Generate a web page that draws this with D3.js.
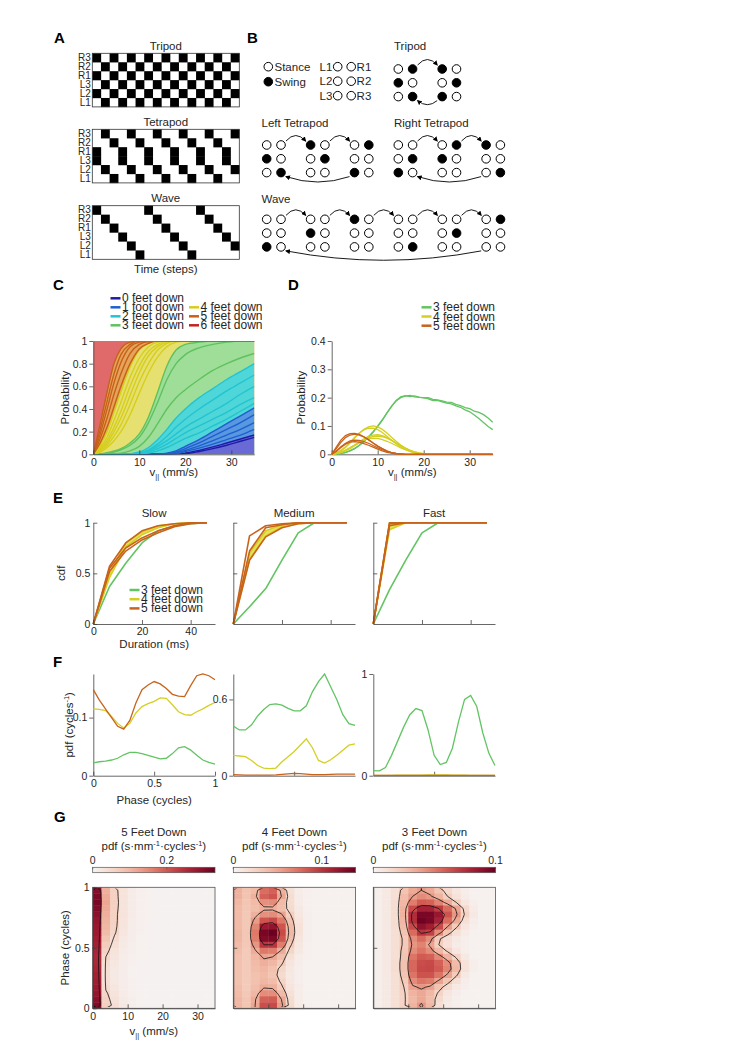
<!DOCTYPE html>
<html>
<head>
<meta charset="utf-8">
<script src="https://cdn.jsdelivr.net/npm/d3@7"></script>
<style>
body { margin: 0; background: #fff; }
svg text { font-family: Arial, "Liberation Sans", Helvetica, sans-serif; fill: #262626; }
</style>
</head>
<body>
<script>
// ---------------- data ----------------
// A: swing (1) / stance (0) per time step, rows in legsA order
var legsA = ["R3", "R2", "R1", "L3", "L2", "L1"];
var tripodA = ["10101010101010101", "01010101010101010", "10101010101010101", "01010101010101010", "10101010101010101", "01010101010101010"];
var tetrapodA = ["01001001001001001", "00100100100100100", "10010010010010010", "10010010010010010", "01001001001001001", "00100100100100100"];
var waveA = ["10000010000010000", "01000001000001000", "00100000100000100", "00010000010000010", "00001000001000001", "00000100000100000"];
var gaitTitlesA = ["Tripod", "Tetrapod", "Wave"];

// B: each step is [row1, row2, row3], each row "LR" with 1 = swing
var tripodB = [["01", "10", "01"], ["10", "01", "10"]];
var leftTetraB = [["00", "10", "01"], ["10", "01", "00"], ["01", "00", "10"]];
var rightTetraB = [["00", "01", "10"], ["01", "10", "00"], ["10", "00", "01"]];
var waveB = [["00", "00", "10"], ["00", "10", "00"], ["10", "00", "00"], ["00", "00", "01"], ["00", "01", "00"], ["01", "00", "00"]];

// C: cumulative probability P(<= k feet down) vs speed, several curves per k
var vC = [0, 1.5, 3, 4.5, 6, 8, 10, 12, 14, 16, 18, 20, 23, 26, 29, 32, 35];
var cum0C = [
  [0, 0, 0, 0, 0, 0, 0, 0, 0, 0, 0, 0.01, 0.035, 0.065, 0.1, 0.135, 0.17],
  [0, 0, 0, 0, 0, 0, 0, 0, 0, 0, 0, 0.005, 0.025, 0.05, 0.08, 0.115, 0.15]
];
var cum1C = [
  [0, 0, 0, 0, 0, 0, 0, 0, 0, 0.01, 0.03, 0.07, 0.13, 0.2, 0.27, 0.34, 0.41],
  [0, 0, 0, 0, 0, 0, 0, 0, 0, 0.005, 0.02, 0.05, 0.1, 0.16, 0.22, 0.28, 0.35],
  [0, 0, 0, 0, 0, 0, 0, 0, 0, 0, 0.01, 0.035, 0.075, 0.12, 0.17, 0.22, 0.28],
  [0, 0, 0, 0, 0, 0, 0, 0, 0, 0, 0.005, 0.025, 0.055, 0.09, 0.13, 0.17, 0.22]
];
var cum2C = [
  [0, 0, 0, 0, 0, 0.005, 0.02, 0.06, 0.13, 0.22, 0.32, 0.4, 0.5, 0.58, 0.66, 0.73, 0.8],
  [0, 0, 0, 0, 0, 0, 0.01, 0.04, 0.09, 0.16, 0.24, 0.31, 0.4, 0.48, 0.56, 0.63, 0.7],
  [0, 0, 0, 0, 0, 0, 0.01, 0.03, 0.07, 0.12, 0.18, 0.24, 0.31, 0.38, 0.45, 0.53, 0.6],
  [0, 0, 0, 0, 0, 0, 0, 0.02, 0.05, 0.09, 0.14, 0.19, 0.25, 0.31, 0.37, 0.44, 0.5],
  [0, 0, 0, 0, 0, 0, 0, 0.01, 0.03, 0.06, 0.1, 0.14, 0.19, 0.25, 0.31, 0.38, 0.45]
];
var cum3C = [
  [0, 0.005, 0.015, 0.03, 0.05, 0.1, 0.18, 0.33, 0.55, 0.78, 0.92, 0.97, 0.99, 1, 1, 1, 1],
  [0, 0, 0.01, 0.02, 0.04, 0.08, 0.15, 0.28, 0.46, 0.66, 0.8, 0.88, 0.94, 0.97, 0.99, 1, 1],
  [0, 0, 0, 0.005, 0.01, 0.03, 0.07, 0.15, 0.27, 0.4, 0.5, 0.57, 0.66, 0.74, 0.8, 0.85, 0.89]
];
var cum4C = [
  [0, 0.08, 0.2, 0.37, 0.55, 0.77, 0.92, 0.98, 1, 1, 1, 1, 1, 1, 1, 1, 1],
  [0, 0.06, 0.15, 0.3, 0.46, 0.68, 0.85, 0.95, 0.99, 1, 1, 1, 1, 1, 1, 1, 1],
  [0, 0.05, 0.12, 0.24, 0.38, 0.6, 0.78, 0.91, 0.97, 1, 1, 1, 1, 1, 1, 1, 1],
  [0, 0.04, 0.1, 0.2, 0.32, 0.52, 0.72, 0.87, 0.95, 0.99, 1, 1, 1, 1, 1, 1, 1],
  [0, 0.03, 0.08, 0.16, 0.26, 0.44, 0.64, 0.8, 0.92, 0.98, 1, 1, 1, 1, 1, 1, 1],
  [0, 0.02, 0.06, 0.12, 0.2, 0.35, 0.54, 0.72, 0.86, 0.95, 0.99, 1, 1, 1, 1, 1, 1]
];
var cum5C = [
  [0, 0.27, 0.55, 0.8, 0.93, 0.99, 1, 1, 1, 1, 1, 1, 1, 1, 1, 1, 1],
  [0, 0.22, 0.47, 0.71, 0.88, 0.97, 1, 1, 1, 1, 1, 1, 1, 1, 1, 1, 1],
  [0, 0.18, 0.4, 0.63, 0.81, 0.95, 0.99, 1, 1, 1, 1, 1, 1, 1, 1, 1, 1],
  [0, 0.14, 0.32, 0.53, 0.71, 0.89, 0.97, 0.995, 1, 1, 1, 1, 1, 1, 1, 1, 1],
  [0, 0.1, 0.24, 0.42, 0.6, 0.8, 0.93, 0.98, 1, 1, 1, 1, 1, 1, 1, 1, 1]
];
var cum6C = [1, 1, 1, 1, 1, 1, 1, 1, 1, 1, 1, 1, 1, 1, 1, 1, 1];
var footNames = ["0 feet down", "1 foot down", "2 feet down", "3 feet down", "4 feet down", "5 feet down", "6 feet down"];

// D: probability vs speed
var vD = [0, 1, 2, 3, 4, 5, 6, 7, 8, 9, 10, 11, 12, 13, 14, 15, 16, 17, 18, 19, 20, 21, 22, 23, 24, 25, 26, 27, 28, 29, 30, 31, 32, 33, 34, 35];
var greenD = [
  [0, 0.001, 0.003, 0.006, 0.012, 0.02, 0.031, 0.045, 0.06, 0.078, 0.098, 0.12, 0.145, 0.168, 0.19, 0.203, 0.207, 0.204, 0.206, 0.202, 0.199, 0.2, 0.194, 0.192, 0.189, 0.184, 0.183, 0.176, 0.172, 0.165, 0.161, 0.152, 0.148, 0.14, 0.128, 0.113],
  [0, 0.001, 0.003, 0.007, 0.013, 0.021, 0.032, 0.046, 0.062, 0.08, 0.1, 0.122, 0.146, 0.17, 0.188, 0.2, 0.205, 0.208, 0.203, 0.201, 0.2, 0.196, 0.19, 0.19, 0.185, 0.181, 0.178, 0.171, 0.166, 0.157, 0.15, 0.139, 0.126, 0.112, 0.098, 0.087]
];
var yellowD = [
  [0, 0.004, 0.012, 0.024, 0.04, 0.057, 0.074, 0.088, 0.097, 0.1, 0.097, 0.088, 0.075, 0.06, 0.046, 0.033, 0.022, 0.013, 0.007, 0.003, 0.001, 0, 0, 0, 0, 0, 0, 0, 0, 0, 0, 0, 0, 0, 0, 0],
  [0, 0.005, 0.014, 0.027, 0.043, 0.06, 0.075, 0.086, 0.092, 0.092, 0.087, 0.077, 0.064, 0.05, 0.037, 0.026, 0.017, 0.01, 0.005, 0.002, 0.001, 0, 0, 0, 0, 0, 0, 0, 0, 0, 0, 0, 0, 0, 0, 0],
  [0, 0.002, 0.007, 0.014, 0.023, 0.033, 0.044, 0.055, 0.063, 0.068, 0.069, 0.066, 0.059, 0.05, 0.04, 0.03, 0.021, 0.014, 0.008, 0.004, 0.002, 0, 0, 0, 0, 0, 0, 0, 0, 0, 0, 0, 0, 0, 0, 0],
  [0, 0.002, 0.006, 0.012, 0.02, 0.03, 0.04, 0.05, 0.058, 0.063, 0.064, 0.062, 0.057, 0.049, 0.04, 0.031, 0.022, 0.015, 0.009, 0.005, 0.002, 0, 0, 0, 0, 0, 0, 0, 0, 0, 0, 0, 0, 0, 0, 0],
  [0, 0.003, 0.008, 0.015, 0.024, 0.033, 0.042, 0.05, 0.055, 0.057, 0.056, 0.052, 0.046, 0.039, 0.031, 0.023, 0.016, 0.01, 0.006, 0.003, 0.001, 0, 0, 0, 0, 0, 0, 0, 0, 0, 0, 0, 0, 0, 0, 0]
];
var orangeD = [
  [0, 0.025, 0.05, 0.066, 0.073, 0.074, 0.07, 0.062, 0.052, 0.04, 0.029, 0.019, 0.011, 0.006, 0.003, 0.001, 0, 0, 0, 0, 0, 0, 0, 0, 0, 0, 0, 0, 0, 0, 0, 0, 0, 0, 0, 0],
  [0, 0.02, 0.042, 0.059, 0.068, 0.071, 0.068, 0.061, 0.051, 0.04, 0.029, 0.02, 0.012, 0.006, 0.003, 0.001, 0, 0, 0, 0, 0, 0, 0, 0, 0, 0, 0, 0, 0, 0, 0, 0, 0, 0, 0, 0],
  [0, 0.012, 0.027, 0.039, 0.047, 0.05, 0.049, 0.045, 0.039, 0.031, 0.023, 0.016, 0.01, 0.005, 0.002, 0.001, 0, 0, 0, 0, 0, 0, 0, 0, 0, 0, 0, 0, 0, 0, 0, 0, 0, 0, 0, 0],
  [0, 0.01, 0.024, 0.036, 0.043, 0.045, 0.043, 0.038, 0.032, 0.025, 0.018, 0.012, 0.007, 0.004, 0.002, 0, 0, 0, 0, 0, 0, 0, 0, 0, 0, 0, 0, 0, 0, 0, 0, 0, 0, 0, 0, 0]
];
var legendD = ["3 feet down", "4 feet down", "5 feet down"];

// E: cdf of duration
var durE = [0, 6.67, 13.33, 20, 26.67, 33.33, 40, 46.67];
var speedTitles = ["Slow", "Medium", "Fast"];
var slowE3 = [[0, 0.37, 0.6, 0.8, 0.92, 0.97, 0.99, 1]];
var slowE4 = [[0, 0.5, 0.8, 0.91, 0.97, 0.99, 1, 1], [0, 0.46, 0.76, 0.88, 0.95, 0.99, 1, 1]];
var slowE5 = [[0, 0.57, 0.8, 0.92, 0.97, 0.99, 1, 1], [0, 0.55, 0.75, 0.85, 0.92, 0.97, 1, 1], [0, 0.52, 0.72, 0.83, 0.9, 0.96, 0.99, 1]];
var medE3 = [[0, 0.17, 0.35, 0.63, 0.9, 1, 1, 1]];
var medE4 = [[0, 0.7, 0.92, 0.98, 1, 1, 1, 1], [0, 0.64, 0.87, 0.96, 0.99, 1, 1, 1]];
var medE5 = [[0, 0.87, 0.97, 0.99, 1, 1, 1, 1], [0, 0.72, 0.95, 0.98, 1, 1, 1, 1], [0, 0.63, 0.86, 0.95, 0.99, 1, 1, 1]];
var fastE3 = [[0, 0.34, 0.63, 0.9, 1, 1, 1, 1]];
var fastE4 = [[0, 1, 1, 1, 1, 1, 1, 1], [0, 0.93, 1, 1, 1, 1, 1, 1]];
var fastE5 = [[0, 1, 1, 1, 1, 1, 1, 1], [0, 0.99, 1, 1, 1, 1, 1, 1], [0, 0.97, 1, 1, 1, 1, 1, 1]];

// F: pdf of phase
var phaseF = [0, 0.05, 0.1, 0.15, 0.2, 0.25, 0.3, 0.35, 0.4, 0.45, 0.5, 0.55, 0.6, 0.65, 0.7, 0.75, 0.8, 0.85, 0.9, 0.95, 1];
var slowF3 = [0.022, 0.024, 0.025, 0.027, 0.03, 0.036, 0.04, 0.04, 0.038, 0.035, 0.032, 0.029, 0.03, 0.038, 0.048, 0.05, 0.044, 0.035, 0.027, 0.023, 0.02];
var slowF4 = [0.115, 0.114, 0.112, 0.102, 0.09, 0.082, 0.09, 0.108, 0.119, 0.124, 0.128, 0.134, 0.133, 0.122, 0.11, 0.105, 0.104, 0.11, 0.115, 0.121, 0.126];
var slowF5 = [0.148, 0.13, 0.115, 0.1, 0.085, 0.08, 0.095, 0.125, 0.148, 0.156, 0.162, 0.158, 0.15, 0.14, 0.137, 0.136, 0.155, 0.172, 0.175, 0.172, 0.165];
var medF3 = [0.39, 0.36, 0.36, 0.4, 0.47, 0.52, 0.56, 0.565, 0.555, 0.53, 0.51, 0.51, 0.55, 0.66, 0.74, 0.8, 0.7, 0.6, 0.48, 0.41, 0.395];
var medF4 = [0.16, 0.155, 0.15, 0.12, 0.08, 0.06, 0.055, 0.06, 0.11, 0.15, 0.19, 0.24, 0.29, 0.22, 0.12, 0.1, 0.125, 0.16, 0.2, 0.24, 0.25];
var medF5 = [0.008, 0.006, 0.005, 0.004, 0.004, 0.004, 0.005, 0.006, 0.01, 0.015, 0.018, 0.016, 0.012, 0.009, 0.008, 0.009, 0.011, 0.012, 0.012, 0.012, 0.012];
var fastF3 = [0.05, 0.047, 0.08, 0.2, 0.34, 0.48, 0.6, 0.66, 0.64, 0.45, 0.2, 0.11, 0.13, 0.27, 0.53, 0.75, 0.79, 0.68, 0.42, 0.22, 0.1];
var fastF4 = [0.004, 0.004, 0.004, 0.004, 0.005, 0.005, 0.005, 0.006, 0.006, 0.007, 0.008, 0.008, 0.007, 0.006, 0.005, 0.005, 0.004, 0.004, 0.004, 0.004, 0.004];
var fastF5 = [0.003, 0.003, 0.003, 0.003, 0.003, 0.003, 0.003, 0.003, 0.003, 0.003, 0.003, 0.003, 0.003, 0.003, 0.003, 0.003, 0.003, 0.003, 0.003, 0.003, 0.003];
var yMaxF = [0.175, 0.8, 1];
var yTicksF = [[0, 0.1], [0, 0.6], [0, 1]];

// G: joint pdf (units of 1e-3), 14 speed bins (0-35 mm/s) x 20 phase bins, top row = phase 1
var heatUnit = 0.001;
var heat5 = [
  [300, 110, 62, 30, 15, 8, 5, 3, 3, 3, 3, 3, 3, 3],
  [310, 115, 63, 31, 15, 8, 5, 3, 3, 3, 3, 3, 3, 3],
  [315, 120, 65, 32, 16, 8, 5, 3, 3, 3, 3, 3, 3, 3],
  [305, 115, 63, 31, 15, 8, 5, 3, 3, 3, 3, 3, 3, 3],
  [295, 110, 60, 30, 15, 8, 5, 3, 3, 3, 3, 3, 3, 3],
  [285, 105, 60, 29, 14, 7, 4, 3, 3, 3, 3, 3, 3, 3],
  [280, 100, 58, 28, 14, 7, 4, 3, 3, 3, 3, 3, 3, 3],
  [275, 92, 54, 26, 13, 7, 4, 3, 3, 3, 3, 3, 3, 3],
  [270, 80, 45, 22, 12, 6, 4, 3, 3, 3, 3, 3, 3, 3],
  [265, 70, 38, 18, 10, 6, 4, 3, 3, 3, 3, 3, 3, 3],
  [260, 60, 32, 16, 9, 5, 3, 3, 3, 3, 3, 3, 3, 3],
  [255, 50, 27, 14, 8, 5, 3, 3, 3, 3, 3, 3, 3, 3],
  [255, 42, 23, 12, 7, 4, 3, 3, 3, 3, 3, 3, 3, 3],
  [260, 38, 21, 11, 6, 4, 3, 3, 3, 3, 3, 3, 3, 3],
  [265, 36, 20, 11, 6, 4, 3, 3, 3, 3, 3, 3, 3, 3],
  [270, 38, 22, 12, 7, 4, 3, 3, 3, 3, 3, 3, 3, 3],
  [275, 45, 25, 13, 7, 4, 3, 3, 3, 3, 3, 3, 3, 3],
  [285, 55, 30, 15, 8, 5, 3, 3, 3, 3, 3, 3, 3, 3],
  [295, 62, 35, 17, 9, 5, 3, 3, 3, 3, 3, 3, 3, 3],
  [305, 68, 40, 20, 10, 5, 3, 3, 3, 3, 3, 3, 3, 3]
];
var heat4 = [
  [45, 35, 40, 75, 80, 45, 15, 6, 3, 2, 2, 2, 2, 2],
  [45, 35, 45, 80, 85, 50, 18, 7, 3, 2, 2, 2, 2, 2],
  [42, 34, 40, 60, 62, 40, 18, 7, 3, 2, 2, 2, 2, 2],
  [40, 33, 38, 46, 46, 38, 20, 8, 3, 2, 2, 2, 2, 2],
  [40, 32, 45, 60, 62, 52, 28, 10, 4, 2, 2, 2, 2, 2],
  [40, 32, 55, 85, 90, 70, 35, 12, 4, 2, 2, 2, 2, 2],
  [40, 32, 65, 115, 120, 85, 40, 14, 4, 2, 2, 2, 2, 2],
  [42, 33, 70, 132, 138, 90, 42, 14, 4, 2, 2, 2, 2, 2],
  [42, 33, 68, 128, 130, 85, 38, 12, 4, 2, 2, 2, 2, 2],
  [40, 32, 58, 100, 100, 68, 30, 10, 3, 2, 2, 2, 2, 2],
  [38, 30, 48, 70, 68, 48, 22, 8, 3, 2, 2, 2, 2, 2],
  [36, 30, 42, 52, 50, 38, 15, 6, 3, 2, 2, 2, 2, 2],
  [36, 30, 40, 46, 42, 30, 12, 5, 2, 2, 2, 2, 2, 2],
  [36, 30, 38, 42, 36, 22, 10, 4, 2, 2, 2, 2, 2, 2],
  [36, 30, 36, 40, 34, 20, 9, 4, 2, 2, 2, 2, 2, 2],
  [36, 30, 36, 42, 38, 24, 10, 4, 2, 2, 2, 2, 2, 2],
  [38, 30, 38, 48, 46, 30, 12, 5, 2, 2, 2, 2, 2, 2],
  [40, 32, 42, 62, 62, 40, 15, 6, 2, 2, 2, 2, 2, 2],
  [42, 34, 48, 80, 82, 50, 18, 6, 2, 2, 2, 2, 2, 2],
  [42, 34, 50, 88, 90, 55, 20, 7, 3, 2, 2, 2, 2, 2]
];
var heat3 = [
  [3, 6, 12, 25, 35, 40, 35, 25, 15, 8, 4, 2, 2, 2],
  [3, 6, 12, 28, 40, 45, 42, 32, 20, 10, 5, 2, 2, 2],
  [3, 6, 13, 30, 50, 60, 58, 48, 35, 20, 8, 3, 2, 2],
  [3, 6, 13, 32, 65, 80, 80, 70, 55, 38, 15, 5, 2, 2],
  [3, 6, 13, 32, 75, 95, 95, 85, 62, 42, 18, 6, 2, 2],
  [3, 6, 13, 30, 75, 98, 95, 80, 55, 35, 12, 4, 2, 2],
  [3, 6, 13, 28, 65, 88, 82, 65, 40, 22, 8, 3, 2, 2],
  [3, 6, 12, 25, 55, 72, 68, 45, 25, 12, 5, 2, 2, 2],
  [3, 6, 12, 22, 45, 55, 45, 22, 12, 6, 3, 2, 2, 2],
  [3, 6, 12, 22, 42, 48, 38, 20, 11, 5, 3, 2, 2, 2],
  [3, 6, 12, 24, 45, 52, 45, 30, 18, 8, 3, 2, 2, 2],
  [3, 6, 12, 25, 52, 60, 58, 46, 32, 18, 6, 2, 2, 2],
  [3, 6, 13, 26, 56, 64, 65, 58, 45, 28, 10, 3, 2, 2],
  [3, 6, 13, 26, 56, 65, 66, 60, 47, 30, 10, 3, 2, 2],
  [3, 6, 12, 25, 52, 62, 62, 52, 38, 22, 6, 2, 2, 2],
  [3, 6, 12, 22, 45, 52, 50, 38, 25, 12, 4, 2, 2, 2],
  [3, 6, 12, 20, 38, 42, 38, 25, 14, 6, 3, 2, 2, 2],
  [3, 6, 12, 18, 32, 36, 30, 18, 8, 4, 2, 2, 2, 2],
  [3, 6, 12, 18, 30, 36, 28, 14, 6, 3, 2, 2, 2, 2],
  [3, 6, 12, 18, 32, 42, 30, 12, 5, 3, 2, 2, 2, 2]
];
var heatTitles = ["5 Feet Down", "4 Feet Down", "3 Feet Down"];
var heatMax = [0.33, 0.138, 0.1];
var heatCbTicks = [[0, 0.2], [0, 0.1], [0, 0.1]];
var heatLevels = [[0.05, 0.22], [0.027, 0.05, 0.1], [0.02, 0.04, 0.07]];

// ---------------- colours ----------------
var footLine = ["#1c1ca8", "#1f5fcf", "#22c4d0", "#5fc25f", "#d6ce1c", "#c8601a", "#c42222"];
var footFill = ["#6a6ad6", "#5898e0", "#4fd6d8", "#9fde98", "#e6e070", "#e4a55a", "#e06a6a"];
var green = "#63c463", yellow = "#d5cf22", orange = "#c8631c", yellowBand = "#e6e060";
var heatInterp = d3.interpolateRgbBasis(["#f6f3f3", "#f6d2c0", "#eba08a", "#d4584c", "#a81c34", "#6b0020"]);
var FONT = 'Arial, "Liberation Sans", Helvetica, sans-serif';

// ---------------- svg ----------------
var svg = d3.select("body").append("svg").attr("width", 729).attr("height", 1048);
svg.append("rect").attr("width", 729).attr("height", 1048).attr("fill", "#fff");
var defs = svg.append("defs");
defs.append("marker").attr("id", "arrow").attr("viewBox", "0 0 10 10")
  .attr("refX", 8).attr("refY", 5).attr("markerWidth", 5).attr("markerHeight", 5)
  .attr("markerUnits", "userSpaceOnUse").attr("orient", "auto")
  .append("path").attr("d", "M0,0L10,5L0,10z").attr("fill", "#000");

function panelLetter(x, y, t) {
  svg.append("text").attr("x", x).attr("y", y).attr("font-size", 15).attr("font-weight", "bold")
    .style("fill", "#000").text(t);
}
function txt(x, y, t, size, anchor) {
  return svg.append("text").attr("x", x).attr("y", y).attr("font-size", size || 11.5)
    .attr("text-anchor", anchor || "start").text(t);
}
function ylabel(x, y, t) {
  return svg.append("text").attr("transform", "translate(" + x + "," + y + ") rotate(-90)")
    .attr("font-size", 11.5).attr("text-anchor", "middle").text(t);
}
function vLabel(x, y) {
  var t = svg.append("text").attr("x", x).attr("y", y).attr("font-size", 11.5).attr("text-anchor", "middle");
  t.append("tspan").text("v");
  t.append("tspan").attr("font-size", 7.5).attr("dy", 2.5).text("||");
  t.append("tspan").attr("dy", -2.5).text(" (mm/s)");
}
function styleAxis(g) {
  g.attr("font-family", FONT).attr("font-size", 10.5);
  g.selectAll("path.domain").attr("stroke", "#404040").attr("stroke-width", 0.8);
  g.selectAll(".tick line").attr("stroke", "#404040").attr("stroke-width", 0.8);
  g.selectAll(".tick text").style("fill", "#262626");
}
// y axis; ticks point inward unless out is true
function axisL(x0, y, vals, labels, out) {
  var a = d3.axisLeft(y).tickValues(vals).tickSizeInner(out ? 4 : -4).tickSizeOuter(0)
    .tickPadding(out ? 2 : 3).tickFormat(labels ? d3.format("~g") : "");
  var g = svg.append("g").attr("transform", "translate(" + x0 + ",0)").call(a);
  styleAxis(g);
  return g;
}
function axisB(y0, x, vals, labels) {
  var a = d3.axisBottom(x).tickValues(vals).tickSizeInner(-4).tickSizeOuter(0).tickPadding(4)
    .tickFormat(labels ? d3.format("~g") : "");
  var g = svg.append("g").attr("transform", "translate(0," + y0 + ")").call(a);
  styleAxis(g);
  return g;
}
function legendRow(x, y, color, label) {
  svg.append("line").attr("x1", x).attr("x2", x + 10).attr("y1", y).attr("y2", y)
    .attr("stroke", color).attr("stroke-width", 2.5);
  txt(x + 11.5, y + 4, label, 12);
}

// ================= A =================
panelLetter(54, 43, "A");
var xA = d3.scaleBand().domain(d3.range(17)).range([92.3, 239.3]);
var boxTopsA = [53.3, 129.3, 205.7];
[tripodA, tetrapodA, waveA].forEach(function (rows, gi) {
  var top = boxTopsA[gi];
  var yA = d3.scaleBand().domain(legsA).range([top, top + 53.6]);
  txt(165.8, top - 3.8, gaitTitlesA[gi], 11.5, "middle");
  rows.forEach(function (s, li) {
    s.split("").forEach(function (c, t) {
      if (c === "1") {
        svg.append("rect").attr("x", xA(t)).attr("y", yA(legsA[li]))
          .attr("width", xA.bandwidth() + 0.2).attr("height", yA.bandwidth() + 0.2).attr("fill", "#000");
      }
    });
  });
  svg.append("rect").attr("x", 92.3).attr("y", top).attr("width", 147).attr("height", 53.6)
    .attr("fill", "none").attr("stroke", "#333").attr("stroke-width", 0.8);
  var ga = svg.append("g").attr("transform", "translate(92.3,0)")
    .call(d3.axisLeft(yA).tickSize(0).tickPadding(1.5));
  ga.select("path.domain").remove();
  ga.attr("font-family", FONT).attr("font-size", 10);
  ga.selectAll("text").style("fill", "#262626");
});
txt(165.8, 272.5, "Time (steps)", 11.5, "middle");

// ================= B =================
panelLetter(247, 43, "B");
function arcArrow(x1, y1, x2, y2, h) {
  svg.append("path")
    .attr("d", "M" + x1 + "," + y1 + "Q" + ((x1 + x2) / 2) + "," + (y1 + 2 * h) + " " + x2 + "," + y2)
    .attr("fill", "none").attr("stroke", "#000").attr("stroke-width", 0.9)
    .attr("marker-end", "url(#arrow)");
}
function drawGaitB(steps, x0, y0) {
  var gx = d3.scaleLinear().domain([0, 1]).range([x0, x0 + 43.9]);
  var ry = d3.scaleLinear().domain([0, 1]).range([y0, y0 + 13.8]);
  function legX(si, side) { return gx(si) + side * 14.3; }
  steps.forEach(function (rows, si) {
    rows.forEach(function (s, ri) {
      s.split("").forEach(function (c, side) {
        svg.append("circle").attr("cx", legX(si, side)).attr("cy", ry(ri)).attr("r", 4.3)
          .attr("fill", c === "1" ? "#000" : "#fff").attr("stroke", "#000").attr("stroke-width", 1);
      });
    });
  });
  for (var si = 0; si < steps.length - 1; si++) {
    arcArrow(legX(si, 1) + 5, ry(0) - 4, legX(si + 1, 0) - 5, ry(0) - 4, -5.5);
  }
  var n = steps.length - 1;
  var xa = legX(n, 0) - 5, xb = legX(0, 1) + 5;
  arcArrow(xa, ry(2) + 4, xb, ry(2) + 4, 3.5 + 0.03 * (xa - xb));
}
// legend
svg.append("circle").attr("cx", 268.3).attr("cy", 66.7).attr("r", 4.3).attr("fill", "#fff").attr("stroke", "#000");
svg.append("circle").attr("cx", 268.3).attr("cy", 81.7).attr("r", 4.3).attr("fill", "#000").attr("stroke", "#000");
txt(274.5, 70.8, "Stance", 11.5);
txt(274.5, 85.8, "Swing", 11.5);
["1", "2", "3"].forEach(function (k, i) {
  var yy = 66.7 + i * 14.5;
  txt(332.4, yy + 4.1, "L" + k, 11.5, "end");
  txt(356.6, yy + 4.1, "R" + k, 11.5, "start");
  svg.append("circle").attr("cx", 337.7).attr("cy", yy).attr("r", 4.3).attr("fill", "#fff").attr("stroke", "#000");
  svg.append("circle").attr("cx", 351.2).attr("cy", yy).attr("r", 4.3).attr("fill", "#fff").attr("stroke", "#000");
});
txt(394, 49.5, "Tripod", 11.5);
drawGaitB(tripodB, 398.3, 69);
txt(261.5, 126.5, "Left Tetrapod", 11.5);
drawGaitB(leftTetraB, 266.7, 145);
txt(394, 126.5, "Right Tetrapod", 11.5);
drawGaitB(rightTetraB, 398.3, 145);
txt(261.5, 202.5, "Wave", 11.5);
drawGaitB(waveB, 266.7, 219.3);

// ================= C =================
panelLetter(53, 290, "C");
var xC = d3.scaleLinear().domain([0, 35]).range([93.3, 254.3]);
var yC = d3.scaleLinear().domain([0, 1]).range([454.3, 341]);
var cumC = [cum0C, cum1C, cum2C, cum3C, cum4C, cum5C];
defs.append("clipPath").attr("id", "clipC").append("rect")
  .attr("x", xC(0)).attr("y", yC(1)).attr("width", xC(35) - xC(0)).attr("height", yC(0) - yC(1));
var gC = svg.append("g").attr("clip-path", "url(#clipC)");
var areaC = d3.area().x(function (d, i) { return xC(vC[i]); })
  .y0(yC(0)).y1(function (d) { return yC(d); }).curve(d3.curveMonotoneX);
var lineC = d3.line().x(function (d, i) { return xC(vC[i]); })
  .y(function (d) { return yC(d); }).curve(d3.curveMonotoneX);
gC.append("path").datum(cum6C).attr("d", areaC).attr("fill", footFill[6]);
for (var k = 5; k >= 0; k--) {
  var env = vC.map(function (v, i) { return d3.max(cumC[k], function (c) { return c[i]; }); });
  gC.append("path").datum(env).attr("d", areaC).attr("fill", footFill[k]);
}
cumC.forEach(function (curves, k) {
  curves.forEach(function (c) {
    gC.append("path").datum(c).attr("d", lineC).attr("fill", "none")
      .attr("stroke", footLine[k]).attr("stroke-width", 1.4);
  });
});
axisL(xC(0), yC, [0, 0.2, 0.4, 0.6, 0.8, 1], true, true);
axisB(yC(0), xC, [0, 10, 20, 30], true);
ylabel(69, 397.6, "Probability");
vLabel(173.8, 476);
// legend C
[0, 1, 2, 3].forEach(function (k, i) { legendRow(110.5, 298.3 + i * 9, footLine[k], footNames[k]); });
[4, 5, 6].forEach(function (k, i) { legendRow(189, 307.3 + i * 9, footLine[k], footNames[k]); });

// ================= D =================
panelLetter(288, 290, "D");
var xD = d3.scaleLinear().domain([0, 35]).range([331.7, 492.7]);
var yD = d3.scaleLinear().domain([0, 0.4]).range([454.3, 341]);
var lineD = d3.line().x(function (d, i) { return xD(vD[i]); }).y(function (d) { return yD(d); });
axisL(xD(0), yD, [0, 0.1, 0.2, 0.3, 0.4], true, true);
axisB(yD(0), xD, [0, 10, 20, 30], true);
[[greenD, green], [yellowD, yellow], [orangeD, orange]].forEach(function (grp) {
  grp[0].forEach(function (c) {
    svg.append("path").datum(c).attr("d", lineD).attr("fill", "none")
      .attr("stroke", grp[1]).attr("stroke-width", 1.3);
  });
});
ylabel(305, 397.6, "Probability");
vLabel(412.2, 476);
[green, yellow, orange].forEach(function (col, i) { legendRow(421.5, 307.3 + i * 9.2, col, legendD[i]); });

// ================= E =================
panelLetter(53, 503, "E");
var panelX = [93.3, 233.3, 373.3];
var groupsE = [[slowE3, slowE4, slowE5], [medE3, medE4, medE5], [fastE3, fastE4, fastE5]];
var colsE = [green, yellow, orange];
var yE = d3.scaleLinear().domain([0, 1]).range([624, 522.7]);
groupsE.forEach(function (groups, p) {
  var xE = d3.scaleLinear().domain([0, 50]).range([panelX[p], panelX[p] + 121.7]);
  var lineE = d3.line().x(function (d, i) { return xE(durE[i]); }).y(function (d) { return yE(d); });
  var bandE = d3.area().x(function (d, i) { return xE(durE[i]); })
    .y0(function (d) { return yE(d[0]); }).y1(function (d) { return yE(d[1]); });
  // shaded spread of the 4-feet-down curves
  var yc = groups[1];
  var band = durE.map(function (t, i) {
    return [d3.min(yc, function (c) { return c[i]; }), d3.max(yc, function (c) { return c[i]; })];
  });
  svg.append("path").datum(band).attr("d", bandE).attr("fill", yellowBand);
  groups.forEach(function (curves, gi) {
    curves.forEach(function (c) {
      svg.append("path").datum(c).attr("d", lineE).attr("fill", "none")
        .attr("stroke", colsE[gi]).attr("stroke-width", 1.6).attr("stroke-linejoin", "round");
    });
  });
  axisL(panelX[p], yE, p === 0 ? [0, 0.5, 1] : [0.5, 1], p === 0);
  axisB(yE(0), xE, p === 0 ? [0, 20, 40] : [20, 40], p === 0);
  txt(panelX[p] + 60.8, 516.5, speedTitles[p], 11.5, "middle");
});
ylabel(65, 573.3, "cdf");
txt(154.2, 647.5, "Duration (ms)", 11.5, "middle");
["3 feet down", "4 feet down", "5 feet down"].forEach(function (l, i) {
  legendRow(129.5, 590 + i * 9.2, colsE[i], l);
});

// ================= F =================
panelLetter(53, 667, "F");
var groupsF = [[slowF3, slowF4, slowF5], [medF3, medF4, medF5], [fastF3, fastF4, fastF5]];
groupsF.forEach(function (lines, p) {
  var xF = d3.scaleLinear().domain([0, 1]).range([panelX[p], panelX[p] + 121.7]);
  var yF = d3.scaleLinear().domain([0, yMaxF[p]]).range([775.7, 674]);
  var lineF = d3.line().x(function (d, i) { return xF(phaseF[i]); }).y(function (d) { return yF(d); });
  axisL(panelX[p], yF, yTicksF[p], true, true);
  axisB(775.7, xF, p === 0 ? [0, 0.5, 1] : [0.5], p === 0);
  lines.forEach(function (c, gi) {
    svg.append("path").datum(c).attr("d", lineF).attr("fill", "none")
      .attr("stroke", colsE[gi]).attr("stroke-width", 1.3);
  });
});
var fl = ylabel(72.5, 724.8, "");
fl.append("tspan").text("pdf (cycles");
fl.append("tspan").attr("font-size", 7.5).attr("dy", -4).text("-1");
fl.append("tspan").attr("dy", 4).text(")");
txt(154.2, 804, "Phase (cycles)", 11.5, "middle");

// ================= G =================
panelLetter(54, 822, "G");
[heat5, heat4, heat3].forEach(function (rows, p) {
  var x0 = panelX[p] - (p === 0 ? 0.6 : 0), w = 122.3, top = 887.3, h = 121;
  var nr = rows.length, nc = rows[0].length;
  var xH = d3.scaleLinear().domain([0, 35]).range([x0, x0 + w]);
  var yH = d3.scaleLinear().domain([0, 1]).range([top + h, top]);
  var color = d3.scaleSequential(heatInterp).domain([0, heatMax[p]]).clamp(true);
  var dv = 35 / nc, dp = 1 / nr;
  var gH = svg.append("g");
  rows.forEach(function (r, ri) {
    r.forEach(function (val, ci) {
      gH.append("rect").attr("x", xH(ci * dv)).attr("y", yH(1 - ri * dp))
        .attr("width", xH(dv) - xH(0) + 0.4).attr("height", yH(0) - yH(dp) + 0.4)
        .attr("fill", color(val * heatUnit));
    });
  });
  // contours from the same grid
  var flat = [];
  rows.forEach(function (r) { r.forEach(function (v) { flat.push(v * heatUnit); }); });
  var cont = d3.contours().size([nc, nr]).thresholds(heatLevels[p])(flat);
  var proj = d3.geoTransform({ point: function (px, py) { this.stream.point(xH(px * dv), yH(1 - py * dp)); } });
  defs.append("clipPath").attr("id", "clipG" + p).append("rect")
    .attr("x", x0 + 1.2).attr("y", top + 1.2).attr("width", w - 2.4).attr("height", h - 2.4);
  svg.append("g").attr("clip-path", "url(#clipG" + p + ")").selectAll("path").data(cont).join("path")
    .attr("d", d3.geoPath(proj)).attr("fill", "none").attr("stroke", "#111").attr("stroke-width", 0.8);
  svg.append("rect").attr("x", x0).attr("y", top).attr("width", w).attr("height", h)
    .attr("fill", "none").attr("stroke", "#555").attr("stroke-width", 0.8);
  axisL(x0, yH, p === 0 ? [0, 0.5, 1] : [0.5], p === 0);
  axisB(top + h, xH, p === 0 ? [0, 10, 20, 30] : [10, 20, 30], p === 0);

  // colour bar
  var gid = "cb" + p;
  var grad = defs.append("linearGradient").attr("id", gid);
  d3.range(0, 1.0001, 0.1).forEach(function (t) {
    grad.append("stop").attr("offset", t).attr("stop-color", color(t * heatMax[p]));
  });
  var xCb = d3.scaleLinear().domain([0, heatMax[p]]).range([x0, x0 + w]);
  svg.append("rect").attr("x", x0).attr("y", 867.3).attr("width", w).attr("height", 5.4)
    .attr("fill", "url(#" + gid + ")").attr("stroke", "#555").attr("stroke-width", 0.7);
  heatCbTicks[p].forEach(function (t) {
    txt(xCb(t), 863.5, d3.format("~g")(t), 10.5, "middle");
    svg.append("line").attr("x1", xCb(t)).attr("x2", xCb(t)).attr("y1", 867.3).attr("y2", 869.3)
      .attr("stroke", "#555").attr("stroke-width", 0.7);
  });
  txt(x0 + w / 2, 835.5, heatTitles[p], 11.5, "middle");
  var pt = txt(x0 + w / 2, 849.5, "", 11.5, "middle");
  pt.append("tspan").text("pdf (s\u00b7mm");
  pt.append("tspan").attr("font-size", 7.5).attr("dy", -4).text("-1");
  pt.append("tspan").attr("dy", 4).text("\u00b7cycles");
  pt.append("tspan").attr("font-size", 7.5).attr("dy", -4).text("-1");
  pt.append("tspan").attr("dy", 4).text(")");
});
ylabel(69, 947.8, "Phase (cycles)");
vLabel(153.8, 1035);
</script>
</body>
</html>
